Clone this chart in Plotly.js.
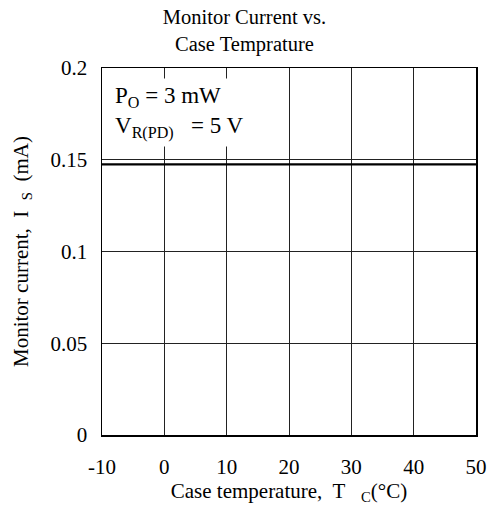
<!DOCTYPE html>
<html>
<head>
<meta charset="utf-8">
<script src="https://cdn.plot.ly/plotly-3.0.1.min.js"></script>
<style>html,body{margin:0;padding:0;background:#fff;}#chart{width:489px;height:510px;}</style>
</head>
<body>
<div id="chart"></div>
<script>
const temperatures = [-10, 0, 10, 20, 30, 40, 50];
const monitorCurrent = [0.1475, 0.1475, 0.1475, 0.1475, 0.1475, 0.1475, 0.1475];
const xTickVals = [-10, 0, 10, 20, 30, 40, 50];
const xTickText = ['-10', '0', '10', '20', '30', '40', '50'];
const yTickVals = [0, 0.05, 0.1, 0.15, 0.2];
const yTickText = ['0', '0.05', '0.1', '0.15', '0.2'];

const FONT = 'Liberation Serif, Times New Roman, serif';

const trace = {
  x: temperatures,
  y: monitorCurrent,
  type: 'scatter',
  mode: 'lines',
  line: {color: '#000', width: 2.2},
  hoverinfo: 'skip',
  showlegend: false
};

const layout = {
  width: 489, height: 510,
  margin: {l: 102, r: 13, t: 68, b: 75},
  paper_bgcolor: '#fff', plot_bgcolor: '#fff',
  font: {family: FONT, size: 20, color: '#000'},
  title: {
    text: 'Monitor Current vs.<br>Case Temprature',
    font: {family: FONT, size: 20.5, color: '#000'},
    x: 0.5, xref: 'container', xanchor: 'center',
    y: 0.953, yref: 'container', yanchor: 'top'
  },
  xaxis: {
    range: [-10, 50],
    tickvals: xTickVals, ticktext: xTickText,
    showgrid: true, gridcolor: '#222', gridwidth: 1,
    showline: true, linecolor: '#000', linewidth: 1.5, mirror: true,
    ticks: '', zeroline: false,
    ticklabelstandoff: 12,
    tickfont: {family: FONT, size: 21, color: '#000'},
    title: {text: 'Case temperature,  T&nbsp;&nbsp;&nbsp;<sub>C</sub>(°C)', font: {family: FONT, size: 21, color: '#000'}, standoff: 4}
  },
  yaxis: {
    range: [0, 0.2],
    tickvals: yTickVals, ticktext: yTickText,
    showgrid: true, gridcolor: '#222', gridwidth: 1,
    showline: true, linecolor: '#000', linewidth: 1.5, mirror: true,
    ticks: '', zeroline: false,
    ticklabelstandoff: 9,
    tickfont: {family: FONT, size: 21, color: '#000'},
    title: {text: 'Monitor current,  I&nbsp;&nbsp;<sub>S</sub>&nbsp;&nbsp;(mA)', font: {family: FONT, size: 21, color: '#000'}, standoff: 16}
  },
  annotations: [
    {
      text: 'P<sub>O</sub> = 3 mW<br>V<sub>R(PD)</sub>&nbsp;&nbsp;&nbsp;= 5 V',
      xref: 'paper', yref: 'paper', x: 0.022, y: 0.972,
      xanchor: 'left', yanchor: 'top', align: 'left', showarrow: false,
      bgcolor: '#fff', borderpad: 4,
      font: {family: FONT, size: 23, color: '#000'}
    }
  ]
};

Plotly.newPlot('chart', [trace], layout, {displayModeBar: false, staticPlot: true});
</script>
</body>
</html>
